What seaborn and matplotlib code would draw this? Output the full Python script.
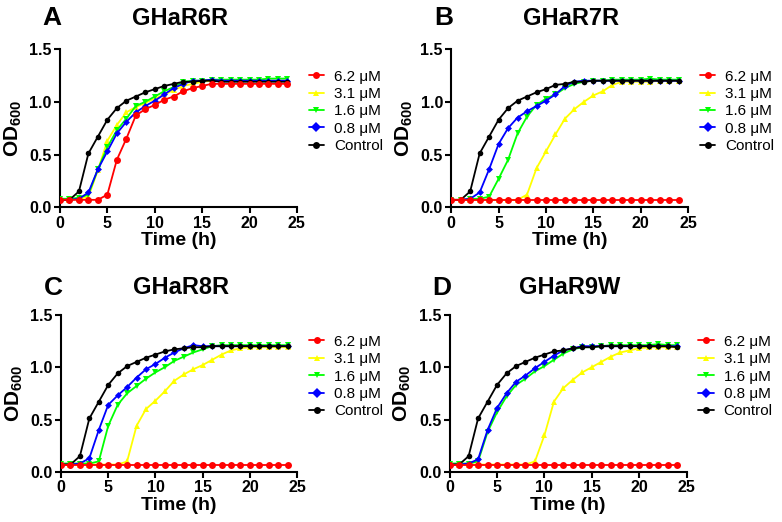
import numpy as np
import pandas as pd
import matplotlib
matplotlib.use("Agg")
import matplotlib.pyplot as plt
import seaborn as sns

hours = list(range(25))
conc_labels = ["6.2 μM", "3.1 μM", "1.6 μM", "0.8 μM", "Control"]

# panel A - GHaR6R
a_62 = [0.07, 0.07, 0.07, 0.07, 0.07, 0.12, 0.45, 0.65, 0.87, 0.93, 0.97, 1.02, 1.05,
        1.10, 1.13, 1.15, 1.17, 1.17, 1.17, 1.17, 1.17, 1.17, 1.17, 1.17, 1.17]
a_31 = [0.07, 0.07, 0.08, 0.10, 0.35, 0.63, 0.78, 0.90, 0.95, 0.99, 1.03, 1.07, 1.11,
        1.15, 1.17, 1.19, 1.20, 1.20, 1.20, 1.20, 1.20, 1.20, 1.20, 1.20, 1.20]
a_16 = [0.08, 0.08, 0.09, 0.12, 0.36, 0.57, 0.73, 0.84, 0.96, 1.00, 1.05, 1.10, 1.14,
        1.19, 1.20, 1.20, 1.21, 1.21, 1.21, 1.21, 1.21, 1.21, 1.22, 1.22, 1.22]
a_08 = [0.07, 0.07, 0.08, 0.14, 0.36, 0.53, 0.70, 0.81, 0.90, 0.96, 1.01, 1.07, 1.13,
        1.17, 1.20, 1.20, 1.21, 1.20, 1.20, 1.20, 1.20, 1.20, 1.20, 1.20, 1.20]
a_ctrl = [0.07, 0.07, 0.15, 0.51, 0.67, 0.83, 0.94, 1.01, 1.05, 1.09, 1.12, 1.15, 1.17,
          1.19, 1.19, 1.20, 1.20, 1.19, 1.19, 1.19, 1.19, 1.19, 1.19, 1.19, 1.19]

# panel B - GHaR7R
b_62 = [0.07] * 25
b_31 = [0.07, 0.07, 0.07, 0.07, 0.07, 0.07, 0.07, 0.07, 0.12, 0.37, 0.53, 0.69, 0.84,
        0.93, 1.00, 1.06, 1.10, 1.16, 1.19, 1.19, 1.19, 1.19, 1.20, 1.20, 1.20]
b_16 = [0.07, 0.07, 0.08, 0.08, 0.10, 0.27, 0.45, 0.70, 0.86, 0.97, 1.03, 1.07, 1.13,
        1.17, 1.19, 1.20, 1.20, 1.21, 1.21, 1.21, 1.21, 1.22, 1.21, 1.21, 1.21]
b_08 = [0.07, 0.07, 0.08, 0.14, 0.36, 0.60, 0.75, 0.85, 0.91, 0.96, 1.01, 1.07, 1.15,
        1.19, 1.20, 1.20, 1.20, 1.20, 1.20, 1.20, 1.20, 1.20, 1.20, 1.20, 1.20]
b_ctrl = [0.07, 0.07, 0.15, 0.51, 0.67, 0.83, 0.94, 1.01, 1.05, 1.09, 1.12, 1.16, 1.17,
          1.19, 1.19, 1.20, 1.20, 1.20, 1.20, 1.20, 1.20, 1.20, 1.20, 1.20, 1.20]

# panel C - GHaR8R
c_62 = [0.07] * 25
c_31 = [0.07, 0.07, 0.07, 0.07, 0.07, 0.07, 0.07, 0.10, 0.44, 0.60, 0.68, 0.77, 0.87,
        0.93, 0.98, 1.02, 1.07, 1.12, 1.16, 1.18, 1.19, 1.19, 1.19, 1.19, 1.19]
c_16 = [0.08, 0.08, 0.08, 0.08, 0.10, 0.44, 0.64, 0.75, 0.82, 0.89, 0.95, 1.00, 1.06,
        1.10, 1.14, 1.17, 1.20, 1.21, 1.21, 1.21, 1.21, 1.21, 1.21, 1.21, 1.21]
c_08 = [0.07, 0.07, 0.08, 0.13, 0.40, 0.64, 0.73, 0.81, 0.90, 0.98, 1.03, 1.09, 1.14,
        1.18, 1.21, 1.20, 1.20, 1.20, 1.20, 1.20, 1.20, 1.20, 1.20, 1.20, 1.20]
c_ctrl = [0.07, 0.07, 0.15, 0.51, 0.67, 0.83, 0.94, 1.01, 1.05, 1.09, 1.12, 1.15, 1.17,
          1.18, 1.19, 1.19, 1.20, 1.20, 1.20, 1.20, 1.20, 1.20, 1.20, 1.20, 1.20]

# panel D - GHaR9W
d_62 = [0.07] * 25
d_31 = [0.07, 0.07, 0.07, 0.07, 0.07, 0.07, 0.07, 0.07, 0.07, 0.10, 0.35, 0.67, 0.80,
        0.88, 0.95, 1.00, 1.05, 1.10, 1.14, 1.16, 1.18, 1.19, 1.19, 1.19, 1.19]
d_16 = [0.08, 0.08, 0.08, 0.10, 0.38, 0.57, 0.72, 0.83, 0.89, 0.96, 1.01, 1.07, 1.13,
        1.17, 1.19, 1.19, 1.20, 1.21, 1.21, 1.21, 1.21, 1.21, 1.22, 1.21, 1.21]
d_08 = [0.07, 0.07, 0.08, 0.12, 0.40, 0.61, 0.75, 0.86, 0.92, 0.99, 1.05, 1.11, 1.16,
        1.18, 1.20, 1.20, 1.20, 1.20, 1.20, 1.20, 1.20, 1.20, 1.20, 1.20, 1.20]
d_ctrl = [0.07, 0.07, 0.15, 0.51, 0.67, 0.83, 0.94, 1.01, 1.05, 1.09, 1.12, 1.15, 1.16,
          1.18, 1.19, 1.19, 1.20, 1.20, 1.20, 1.20, 1.20, 1.20, 1.20, 1.20, 1.19]

panels = [
    ("A", "GHaR6R", [a_62, a_31, a_16, a_08, a_ctrl]),
    ("B", "GHaR7R", [b_62, b_31, b_16, b_08, b_ctrl]),
    ("C", "GHaR8R", [c_62, c_31, c_16, c_08, c_ctrl]),
    ("D", "GHaR9W", [d_62, d_31, d_16, d_08, d_ctrl]),
]

colors = ["#FF0000", "#FFFF00", "#00FF00", "#0000FF", "#000000"]
markers = ["o", "^", "v", "D", "o"]

sns.set_theme(style="ticks")
plt.rcParams["font.family"] = ["Liberation Sans", "DejaVu Sans"]
plt.rcParams["mathtext.fontset"] = "custom"
plt.rcParams["mathtext.bf"] = "Liberation Sans:bold"
plt.rcParams["mathtext.rm"] = "Liberation Sans"
plt.rcParams["text.color"] = "black"
plt.rcParams["axes.labelcolor"] = "black"
plt.rcParams["xtick.color"] = "black"
plt.rcParams["ytick.color"] = "black"

fig = plt.figure(figsize=(7.82, 5.22), dpi=100)

# axes boxes in figure fraction (left, bottom, width, height), label row y
boxes = [((0.0767, 0.603, 0.303, 0.303), 0.9655),
         ((0.577, 0.603, 0.303, 0.303), 0.9655),
         ((0.078, 0.096, 0.302, 0.301), 0.4483),
         ((0.575, 0.096, 0.303, 0.301), 0.4483)]

# draw order: red on top of the flat yellow part, control above the rest
zorders = {"6.2 μM": 4, "3.1 μM": 2.5, "1.6 μM": 2.6, "0.8 μM": 2.7, "Control": 3.5}

for (letter, name, series), (box, label_y) in zip(panels, boxes):
    ax = fig.add_axes(box)
    rows = []
    for lab, vals in zip(conc_labels, series):
        for h, v in zip(hours, vals):
            rows.append([h, v, lab])
    df = pd.DataFrame(rows, columns=["Time", "OD", "Conc"])
    sns.lineplot(data=df, x="Time", y="OD", hue="Conc", style="Conc",
                 hue_order=conc_labels, style_order=conc_labels,
                 palette=colors, markers=markers, dashes=False,
                 linewidth=1.3, markersize=5, markeredgewidth=0, ax=ax)
    for line, lab in zip(ax.get_lines(), conc_labels):
        line.set_zorder(zorders[lab])
        if lab == "Control":
            line.set_markersize(4)
        if lab == "0.8 μM":
            line.set_markersize(3.5)

    ax.set_xlim(0, 25)
    ax.set_ylim(0, 1.5)
    ax.set_xticks([0, 5, 10, 15, 20, 25])
    ax.set_yticks([0.0, 0.5, 1.0, 1.5])
    ax.set_yticklabels(["0.0", "0.5", "1.0", "1.5"])
    for s in ["top", "right"]:
        ax.spines[s].set_visible(False)
    for s in ["left", "bottom"]:
        ax.spines[s].set_linewidth(1.5)
        ax.spines[s].set_color("black")
    ax.tick_params(width=1.5, length=4, labelsize=11.5, pad=2)
    for t in ax.get_xticklabels() + ax.get_yticklabels():
        t.set_fontweight("bold")
    ax.set_xlabel("Time (h)", fontsize=14, fontweight="bold", labelpad=1)
    ax.set_ylabel(r"$\mathbf{OD_{600}}$", fontsize=15, labelpad=4)

    handles, labels = ax.get_legend_handles_labels()
    ax.legend(handles, labels, loc="center left", bbox_to_anchor=(1.05, 0.607),
              frameon=False, fontsize=11, handlelength=1.0, handletextpad=0.65,
              labelspacing=0.22, borderaxespad=0, borderpad=0)

    x0, y0, w, h = box
    fig.text(x0 - 0.01, label_y, letter, fontsize=19, fontweight="bold",
             ha="center", va="center")
    fig.text(x0 + 0.153, label_y, name, fontsize=17, fontweight="bold",
             ha="center", va="center")

fig.savefig("out.png", dpi=100)
